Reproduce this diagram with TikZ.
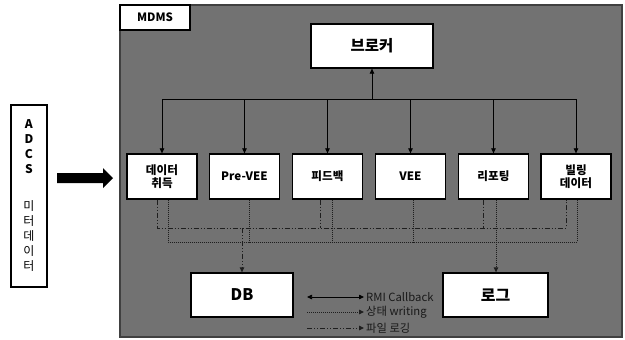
\documentclass[tikz,border=0pt]{standalone}
\usepackage{fontspec}
\setmainfont{Noto Sans CJK KR}
\usetikzlibrary{arrows.meta}
\definecolor{panel}{RGB}{114,114,114}
\definecolor{linegray}{RGB}{30,30,30}
\tikzset{
  box/.style={draw=black, line width=1.3pt, fill=white, inner sep=0pt, font=\bfseries},
  modbox/.style={box, minimum width=70pt, minimum height=45pt, font=\bfseries\fontsize{11.6}{13.5}\selectfont, align=center},
  bigbox/.style={box, minimum height=44pt, font=\bfseries\fontsize{16}{18}\selectfont},
  tip/.style={-{Triangle[length=5pt,width=4.5pt]}},
  link/.style={draw=black, line width=0.75pt},
  logline/.style={draw=linegray, line width=0.9pt, dash pattern=on 5pt off 2pt on 1pt off 2pt on 1pt off 2pt},
  stateline/.style={draw=linegray, line width=0.9pt, dash pattern=on 1pt off 1pt},
  legendtext/.style={anchor=west, inner sep=0pt, text=black!90, font=\fontsize{11.3}{13}\selectfont}
}
\begin{document}
\begin{tikzpicture}[x=1pt, y=-1pt]
\useasboundingbox (0,0) rectangle (625,340);

% MDMS panel
\filldraw[fill=panel, draw=black!75, line width=1.1pt] (120,5) rectangle (622,337);
\node[box, minimum width=70pt, minimum height=25pt, font=\bfseries\fontsize{11.5}{13}\selectfont] (mdms) at (155,17.5) {MDMS};

% broker and modules
\node[bigbox, minimum width=122pt, font=\bfseries\fontsize{15.5}{17}\selectfont] (broker) at (372,46) {브로커};
\node[modbox] (m1) at (162,176.5) {데이터\\취득};
\node[modbox] (m2) at (244.5,176.5) {Pre-VEE};
\node[modbox] (m3) at (327.5,176.5) {피드백};
\node[modbox] (m4) at (410.5,176.5) {VEE};
\node[modbox] (m5) at (493.5,176.5) {리포팅};
\node[modbox] (m6) at (576,176.5) {빌링\\데이터};

% storage
\node[bigbox, minimum width=102pt] (db) at (242,295) {DB};
\node[bigbox, minimum width=105pt] (log) at (495.5,295) {로그};

% external source
\node[box, minimum width=36pt, minimum height=182pt, align=center, font=\fontsize{12}{15}\selectfont] (adcs) at (29,196)
  {\textbf{A}\\\textbf{D}\\\textbf{C}\\\textbf{S}\\[22pt]미\\터\\데\\이\\터};
\coordinate (feedA) at (57,178);
\coordinate (feedB) at (113,178);
\fill[black] (feedA) ++(0,-5) -- ++(46,0) -- ++(0,-5) -- (feedB) -- ++(-10,10) -- ++(0,-5) -- ++(-46,0) -- cycle;

% broker bus
\coordinate (bus) at (372,99);
\draw[link, tip] (bus) -- (broker.south);
\draw[link] (m1.north |- bus) -- (m6.north |- bus);
\foreach \m in {m1,m2,m3,m4,m5,m6}
  \draw[link, tip] (\m.north |- bus) -- (\m.north);

% file logging (dash-dot-dot)
\coordinate (logbus) at (0,228);
\coordinate (l1) at ([xshift=-5pt]m1.south);
\coordinate (l3) at ([xshift=-7.5pt]m3.south);
\coordinate (l5) at ([xshift=-10.5pt]m5.south);
\coordinate (l6) at ([xshift=-10pt]m6.south);
\draw[logline] (l1) -- (l1 |- logbus) -- (l6 |- logbus) -- (l6);
\draw[logline] (l3) -- (l3 |- logbus);
\draw[logline] (l5) -- (l5 |- logbus);
\draw[logline, tip] (db.north |- logbus) -- (db.north);

% state writing (dotted)
\coordinate (statebus) at (0,242);
\coordinate (s1) at ([xshift=6pt]m1.south);
\coordinate (s2) at ([xshift=4.5pt]m2.south);
\coordinate (s3) at ([xshift=4.5pt]m3.south);
\coordinate (s4) at ([xshift=2.5pt]m4.south);
\coordinate (s5) at ([xshift=2.5pt]m5.south);
\coordinate (s6) at ([xshift=1pt]m6.south);
\draw[stateline] (s1) -- (s1 |- statebus) -- (s6 |- statebus) -- (s6);
\foreach \s in {s2,s3,s4}
  \draw[stateline] (\s) -- (\s |- statebus);
\draw[stateline, tip] (s5) -- (s5 |- log.north);

% legend
\coordinate (ga) at (307,297); \coordinate (gb) at (364,297);
\coordinate (ha) at (307,312); \coordinate (hb) at (364,312);
\coordinate (ia) at (307,328); \coordinate (ib) at (364,328);
\draw[link, {Triangle[length=5pt,width=4.5pt]}-{Triangle[length=5pt,width=4.5pt]}] (ga) -- (gb);
\draw[stateline, tip] (ha) -- (hb);
\draw[logline, tip] (ia) -- (ib);
\node[legendtext] (g1) at ([xshift=2pt]gb) {RMI Callback};
\node[legendtext] (g2) at ([xshift=2pt]hb) {상태 writing};
\node[legendtext] (g3) at ([xshift=2pt]ib) {파일 로깅};
\end{tikzpicture}
\end{document}
